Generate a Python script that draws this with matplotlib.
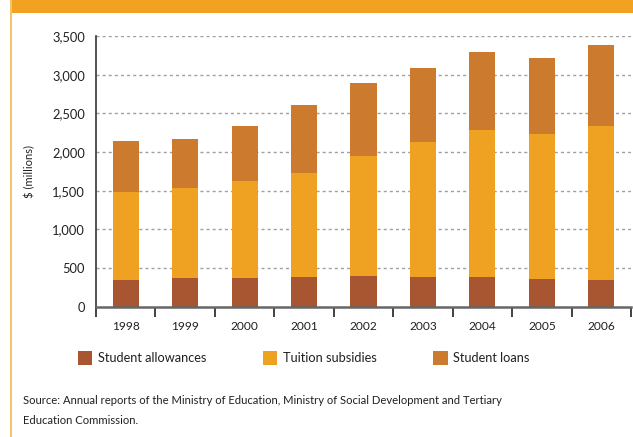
import matplotlib.pyplot as plt
import numpy as np
from matplotlib.patches import Rectangle

plt.rcParams["font.family"] = ["Lato", "DejaVu Sans"]

years = ["1998", "1999", "2000", "2001", "2002", "2003", "2004", "2005", "2006"]
allowances = [345, 370, 370, 385, 395, 385, 385, 360, 345]
tuition = [1140, 1165, 1255, 1345, 1555, 1745, 1900, 1875, 1990]
loans = [655, 635, 710, 880, 940, 955, 1010, 980, 1050]
series_names = ["Student allowances", "Tuition subsidies", "Student loans"]
y_ticks = [0, 500, 1000, 1500, 2000, 2500, 3000, 3500]
source_note = ("Source: Annual reports of the Ministry of Education, Ministry of Social Development and Tertiary\n"
               "Education Commission.")

colors = ["#A85532", "#EFA121", "#CC7A2D"]
text_color = "#231F20"

W, H = 633, 437
fig = plt.figure(figsize=(W / 100, H / 100), dpi=100)

# page decoration: orange band on top and thin rule on the left
fig.add_artist(Rectangle((10 / W, 1 - 13 / H), 1, 13 / H, transform=fig.transFigure,
                         facecolor="#F0A220", edgecolor="none"))
fig.add_artist(Rectangle((10 / W, 0), 2 / W, 1, transform=fig.transFigure,
                         facecolor="#F5C46A", edgecolor="none"))

ax = fig.add_axes([96 / W, 1 - 306.7 / H, (631 - 96) / W, (306.7 - 36) / H])

x = np.arange(len(years))
bottoms = np.zeros(len(years))
for vals, name, c in zip([allowances, tuition, loans], series_names, colors):
    ax.bar(x, vals, width=0.44, bottom=bottoms, color=c, label=name, zorder=3)
    bottoms += np.array(vals)

ax.set_xlim(-0.5, len(years) - 0.5)
ax.set_ylim(0, 3500)
ax.set_yticks(y_ticks)
ax.set_yticklabels([f"{v:,}" for v in y_ticks], fontsize=9.3, color=text_color)
ax.tick_params(axis="y", length=0, pad=8)

ax.set_xticks(x)
ax.set_xticklabels(years, fontsize=8.6, color=text_color)
ax.set_xticks(np.arange(-0.5, len(years)), minor=True)
ax.tick_params(axis="x", which="major", length=0, pad=10)
ax.tick_params(axis="x", which="minor", length=7, width=1.3, color="#333333", direction="out")

for v in y_ticks[1:]:
    ax.axhline(v, color="#A0A0A0", linestyle=(0, (2.2, 2.2)), linewidth=1.0, zorder=1)

for side in ["top", "right"]:
    ax.spines[side].set_visible(False)
ax.spines["left"].set_color("#333333")
ax.spines["left"].set_linewidth(1.2)
ax.spines["bottom"].set_color("#666666")
ax.spines["bottom"].set_linewidth(1.8)
ax.spines["bottom"].set_zorder(4)

ax.set_ylabel("$ (millions)", fontsize=8, color=text_color)
ax.yaxis.set_label_coords(-0.114, 0.5)

fig.legend(loc="center left", bbox_to_anchor=(78 / W, 1 - 358 / H), ncol=3, frameon=False,
           fontsize=9.2, handlelength=1.1, handleheight=1.25, handletextpad=0.45,
           columnspacing=4.45, borderpad=0, borderaxespad=0, labelcolor=text_color)

fig.text(23 / W, 1 - 411 / H, source_note, fontsize=8.1, color=text_color,
         va="center", ha="left", linespacing=2.0)

fig.savefig("out.png", dpi=100)
